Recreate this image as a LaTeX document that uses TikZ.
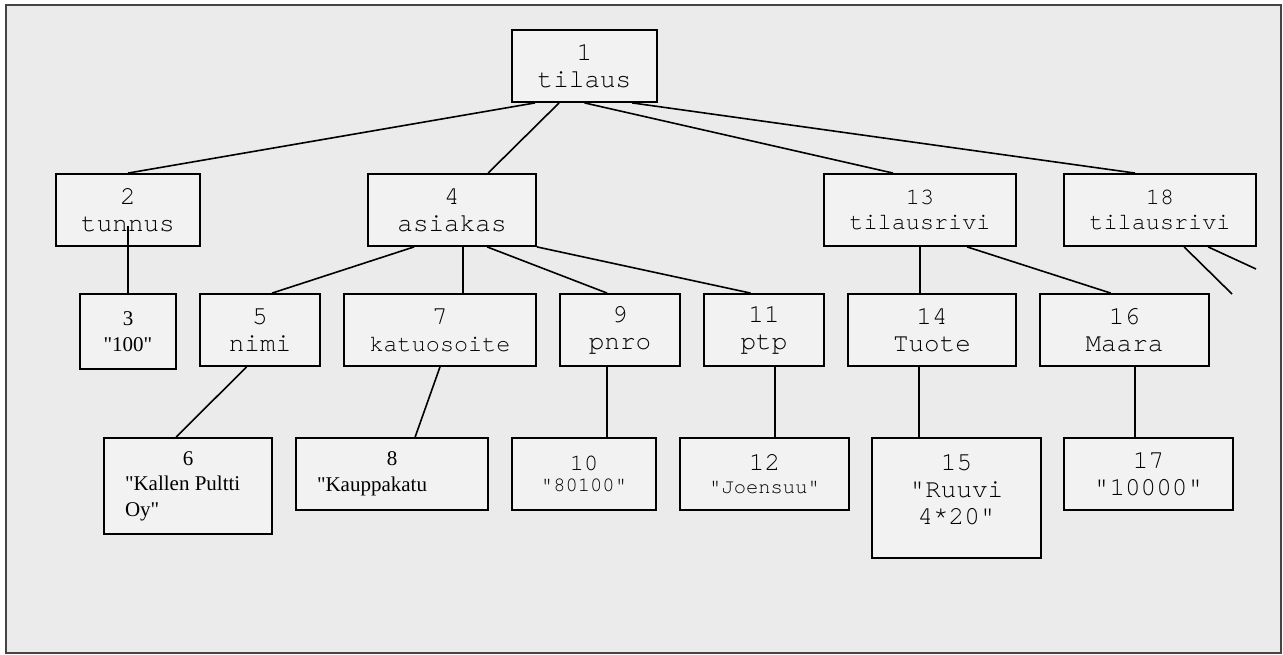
\documentclass[tikz,border=0pt]{standalone}
\usepackage{fontspec}
\IfFontExistsTF{texgyrecursor-regular.otf}
  {\newfontfamily\boxfont{texgyrecursor-regular.otf}}
  {\newfontfamily\boxfont{Liberation Mono}}
\newfontfamily\valfont{Liberation Serif}

\definecolor{kehys}{HTML}{444444}
\definecolor{tausta}{HTML}{EBEBEB}
\definecolor{laatikko}{HTML}{F2F2F2}

\newcommand\mbig{\boxfont\fontsize{26}{27}\selectfont}
\newcommand\mmid{\boxfont\fontsize{23.5}{24.5}\selectfont}
\newcommand\msmall{\boxfont\fontsize{20.5}{21}\selectfont}
\newcommand\tval{\valfont\fontsize{21}{25.5}\selectfont}

\begin{document}
\begin{tikzpicture}[x=1pt,y=-1pt]
\tikzset{ box/.style={draw, line width=1.8pt, fill=laatikko, align=center, inner sep=0pt, font=\mbig},
          viiva/.style={line width=1.6pt} }
\useasboundingbox (0,0) rectangle (1283,655);
\draw [line width=2pt, draw=kehys, fill=tausta] (6,5) rectangle (1280.5,653);

% taso 1
\node [box, minimum width=145pt, minimum height=72pt] (tilaus) at (584.5,66) {1\\tilaus};

% taso 2
\node [box, minimum width=144pt, minimum height=72pt] (tunnus)  at (128,210)  {2\\tunnus};
\node [box, minimum width=168pt, minimum height=72pt] (asiakas) at (452,210)  {4\\asiakas};
\node [box, minimum width=192pt, minimum height=72pt, font=\mmid] (rivi)  at (920,210)  {13\\tilausrivi};
\node [box, minimum width=192pt, minimum height=72pt, font=\mmid] (rivib) at (1160,210) {18\\tilausrivi};

% taso 3
\node [box, minimum width=96pt,  minimum height=75pt, font=\tval] (sata) at (128,331.5) {3\\"100"};
\node [box, minimum width=120pt, minimum height=72pt] (nimi)  at (260,330)    {5\\nimi};
\node [box, minimum width=192pt, minimum height=72pt] (katu)  at (440,330)    {7\\{\mmid katuosoite}};
\node [box, minimum width=120pt, minimum height=72pt] (pnro)  at (620,330)    {9\\pnro};
\node [box, minimum width=120pt, minimum height=72pt] (ptp)   at (764,330)    {11\\ptp};
\node [box, minimum width=168pt, minimum height=72pt] (tuote) at (932,330)    {14\\Tuote};
\node [box, minimum width=169pt, minimum height=72pt] (maara) at (1124.5,330) {16\\Maara};

% taso 4
\node [box, minimum width=168pt, minimum height=96pt, font=\tval] (kallen) at (188,486)
  {\parbox{126pt}{\centering 6\par\raggedright "Kallen Pultti\\Oy"}};
\node [box, minimum width=192pt, minimum height=72pt, font=\tval] (kauppa) at (392,474)
  {\parbox{150pt}{\centering 8\par\raggedright "Kauppakatu}};
\node [box, minimum width=144pt, minimum height=72pt, font=\msmall] (koodi)   at (584,474)    {{\mmid 10}\\"80100"};
\node [box, minimum width=169pt, minimum height=72pt, font=\msmall] (joensuu) at (764.5,474)  {{\mbig 12}\\[2pt]"Joensuu"};
\node [box, minimum width=169pt, minimum height=120pt, text depth=16pt] (ruuvi) at (956.5,498) {15\\"Ruuvi\\4*20"};
\node [box, minimum width=169pt, minimum height=72pt] (kymppi)  at (1148.5,474) {17\\"10000"};

% vapaat paat
\coordinate (jatko1) at (1232,294);
\coordinate (jatko2) at (1256,269);

% yhteydet
\draw [viiva] ([xshift=24pt]tilaus.south west)  -- (tunnus.north);
\draw [viiva] ([xshift=48pt]tilaus.south west)  -- ([xshift=121pt]asiakas.north west);
\draw [viiva] (tilaus.south)                    -- ([xshift=70pt]rivi.north west);
\draw [viiva] ([xshift=121pt]tilaus.south west) -- ([xshift=72pt]rivib.north west);

\draw [viiva] ([yshift=21pt]tunnus.south)       -- (sata.north);
\draw [viiva] ([xshift=47pt]asiakas.south west) -- ([xshift=73pt]nimi.north west);
\draw [viiva] ([xshift=96pt]asiakas.south west) coordinate (a7) -- (a7 |- katu.north);
\draw [viiva] ([xshift=120pt]asiakas.south west) -- ([xshift=48pt]pnro.north west);
\draw [viiva] (asiakas.south east)              -- ([xshift=47.5pt]ptp.north west);
\draw [viiva] (rivi.south)                      -- (rivi.south |- tuote.north);
\draw [viiva] ([xshift=144pt]rivi.south west)   -- ([xshift=71.6pt]maara.north west);
\draw [viiva] ([xshift=121pt]rivib.south west)  -- (jatko1);
\draw [viiva] ([xshift=145pt]rivib.south west)  -- (jatko2);

\draw [viiva] ([xshift=47.5pt]nimi.south west)  -- ([xshift=73pt]kallen.north west);
\draw [viiva] (katu.south)                      -- ([xshift=120pt]kauppa.north west);
\draw [viiva] ([xshift=48pt]pnro.south west) coordinate (a9) -- (a9 |- koodi.north);
\draw [viiva] ([xshift=72pt]ptp.south west) coordinate (a11) -- (a11 |- joensuu.north);
\draw [viiva] ([xshift=72pt]tuote.south west) coordinate (a14) -- (a14 |- ruuvi.north);
\draw [viiva] ([xshift=96pt]maara.south west) coordinate (a16) -- (a16 |- kymppi.north);

\end{tikzpicture}
\end{document}
